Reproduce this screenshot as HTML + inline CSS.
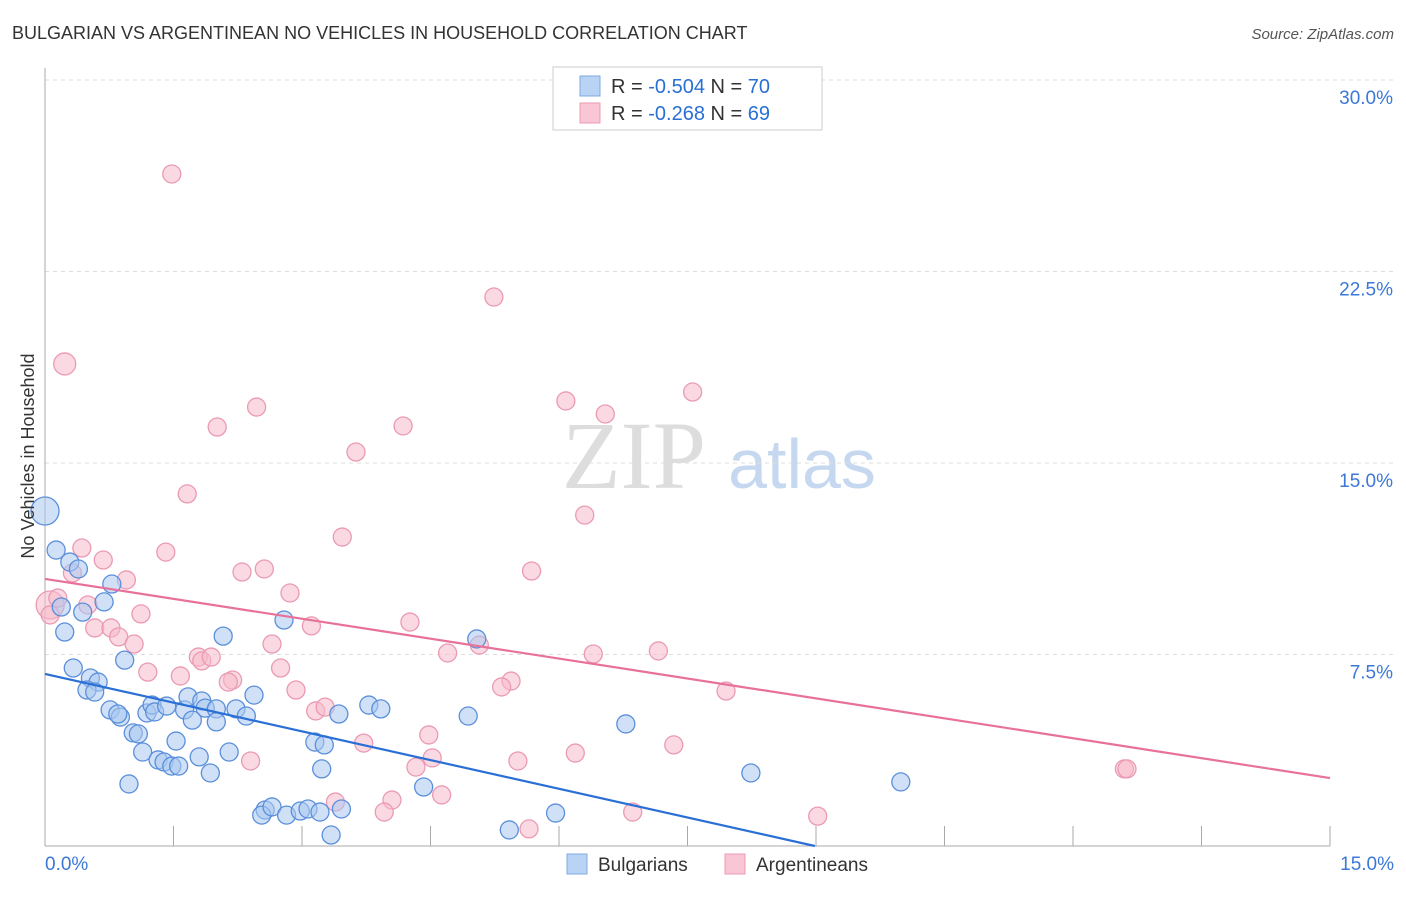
<!DOCTYPE html>
<html><head><meta charset="utf-8"><style>
body{margin:0;background:#fff;font-family:"Liberation Sans",sans-serif;}
</style></head><body>
<svg width="1406" height="892" viewBox="0 0 1406 892" xmlns="http://www.w3.org/2000/svg">
<text x="12" y="39" font-size="18" fill="#333">BULGARIAN VS ARGENTINEAN NO VEHICLES IN HOUSEHOLD CORRELATION CHART</text>
<text x="1394" y="39" font-size="15" fill="#555" text-anchor="end" font-style="italic">Source: ZipAtlas.com</text>
<text x="634" y="488" font-size="96" fill="#ddd" font-family="Liberation Serif,serif" text-anchor="middle">ZIP</text>
<text x="802" y="488" font-size="70" fill="#c6d8f0" text-anchor="middle">atlas</text>
<g id="grid"></g>
<g id="axes"></g>
<g id="pts"></g>
<g id="lines"></g>
<text transform="translate(34,456) rotate(-90)" font-size="18" fill="#333" text-anchor="middle">No Vehicles in Household</text>
<g>
<rect x="553" y="67" width="269" height="63" fill="#fff" stroke="#ccc"/>
<rect x="580" y="76" width="20" height="20" fill="#b9d3f5" stroke="#7fa9e0"/>
<rect x="580" y="103" width="20" height="20" fill="#f8c6d5" stroke="#ee9ab3"/>
<text x="611" y="93" font-size="20" fill="#333">R = <tspan fill="#2a6fd6">-0.504</tspan>   N = <tspan fill="#2a6fd6">70</tspan></text>
<text x="611" y="120" font-size="20" fill="#333">R =  <tspan fill="#2a6fd6">-0.268</tspan>   N =  <tspan fill="#2a6fd6">69</tspan></text>
</g>
<g>
<rect x="567" y="854" width="20" height="20" fill="#b9d3f5" stroke="#7fa9e0"/>
<text x="598" y="871" font-size="19" fill="#333">Bulgarians</text>
<rect x="725" y="854" width="20" height="20" fill="#f8c6d5" stroke="#ee9ab3"/>
<text x="756" y="871" font-size="19" fill="#333">Argentineans</text>
</g>
</svg>
<script>
const yTicks=[7.5,15,22.5,30];
const yTickLabels=["7.5%","15.0%","22.5%","30.0%"];
const xTickLabels=["0.0%","15.0%"];
const blueX=[0,.13,.29,.39,.19,.44,.23,.78,.69,.93,.33,.53,.62,.49,.58,.76,.88,.85,1.03,1.09,1.19,1.25,1.28,1.42,1.63,1.67,1.83,1.87,1.72,2.0,2.0,2.08,2.23,2.35,2.44,1.14,1.32,1.39,1.48,1.56,1.53,1.8,1.93,2.15,.98,2.79,2.57,2.53,2.65,2.82,2.98,3.07,3.21,3.46,3.34,3.15,3.26,3.23,3.43,3.78,3.92,4.42,4.94,5.04,5.42,5.96,6.78,8.24,9.99];
const blueY=[13.12,11.59,11.12,10.85,9.36,9.16,8.38,10.26,9.56,7.28,6.97,6.58,6.42,6.11,6.03,5.33,5.05,5.17,4.43,4.39,5.21,5.52,5.25,5.48,5.33,5.84,5.68,5.4,4.93,5.37,4.86,8.22,5.37,5.09,5.91,3.68,3.37,3.29,3.13,3.13,4.11,3.49,2.86,3.68,2.43,8.85,1.41,1.21,1.53,1.21,1.37,1.45,1.33,1.45,.43,4.07,3.96,3.02,5.17,5.52,5.37,2.31,5.09,8.11,.63,1.29,4.78,2.86,2.51];
const pinkX=[.06,.15,.23,1.48,5.24,7.56,6.08,6.54,2.47,2.01,4.18,3.63,1.66,6.3,.43,.68,.32,.95,1.41,2.3,2.56,3.47,5.68,2.86,1.12,.5,.58,.77,.86,1.04,2.65,3.11,4.26,4.7,5.07,6.4,7.16,1.2,1.58,1.79,1.83,1.94,2.19,2.14,2.75,2.93,3.16,3.27,5.44,5.33,7.95,3.72,4.48,4.52,2.4,4.33,5.52,6.19,7.34,12.6,12.63,3.39,4.05,3.96,4.63,6.86,5.65,9.02,.06];
const pinkY=[9.44,9.71,18.88,26.32,21.5,17.78,17.43,16.92,17.19,16.41,16.45,15.43,13.79,12.96,11.67,11.2,10.69,10.42,11.51,10.73,10.85,12.1,10.77,9.91,9.09,9.44,8.54,8.54,8.19,7.91,7.91,8.62,8.77,7.56,7.87,7.52,7.64,6.81,6.66,7.4,7.25,7.4,6.5,6.42,6.97,6.11,5.29,5.44,6.46,6.23,6.07,4.03,4.35,3.45,3.33,3.09,3.33,3.64,3.96,3.02,3.02,1.72,1.8,1.33,2.0,1.33,.67,1.17,9.05];
const blueBig=[0]; const pinkBig=[0,2];
const blueFit=[6.74,-0.75]; const pinkFit=[10.46,-0.52];
const NS="http://www.w3.org/2000/svg";
const X=v=>45+v/15*1285, Y=v=>846-v/7.5*191.5;
function mk(t,a,p){const e=document.createElementNS(NS,t);for(const k in a)e.setAttribute(k,a[k]);p.appendChild(e);return e;}
const grid=document.getElementById('grid'),axes=document.getElementById('axes'),pts=document.getElementById('pts'),lines=document.getElementById('lines');
yTicks.forEach((v,i)=>{
 const l=mk('line',{x1:45,x2:1395,y1:Y(v),y2:Y(v),stroke:'#ddd','stroke-dasharray':'4,4'},grid);
 
 
 const t=mk('text',{x:1393,y:Y(v)+24,'font-size':19,fill:'#3b78d8','text-anchor':'end'},axes);
 t.textContent=yTickLabels[i];
 
 
});
const ax=mk('line',{x1:45,x2:45,y1:68,y2:846,stroke:'#aaa'},axes);


const xa=mk('line',{x1:45,x2:1330,y1:846,y2:846,stroke:'#aaa'},axes);


for(let i=1;i<=10;i++){const v=i*1.5;const tk=mk('line',{x1:X(v),x2:X(v),y1:826,y2:846,stroke:'#aaa'},axes);
 
 }
[[0,'start',45],[15,'end',1394]].forEach((d,i)=>{const t=mk('text',{x:d[2],y:870,'font-size':19,fill:'#3b78d8','text-anchor':d[1]},axes);t.textContent=xTickLabels[i];
 
 });
function dots(xs,ys,big,fill,stroke,name){xs.forEach((x,i)=>{
 const r=big.includes(i)?(i===0?14:11):9;
 const c=mk('circle',{cx:X(x),cy:Y(ys[i]),r:r,fill:fill,'fill-opacity':0.55,stroke:stroke,'stroke-width':1.3},pts);
 
 });}
dots(pinkX,pinkY,pinkBig,'#f6b9cb','#eb9ab3','argentinean-point');
dots(blueX,blueY,blueBig,'#a9c8f0','#5b8fdb','bulgarian-point');
const bx2=-blueFit[0]/blueFit[1];
const bl=mk('line',{x1:X(0),y1:Y(blueFit[0]),x2:X(bx2),y2:Y(0),stroke:'#2a6fd6','stroke-width':2.2},lines);


const pl=mk('line',{x1:X(0),y1:Y(pinkFit[0]),x2:X(15),y2:Y(pinkFit[0]+15*pinkFit[1]),stroke:'#e8719a','stroke-width':2.2},lines);


</script>
</body></html>
